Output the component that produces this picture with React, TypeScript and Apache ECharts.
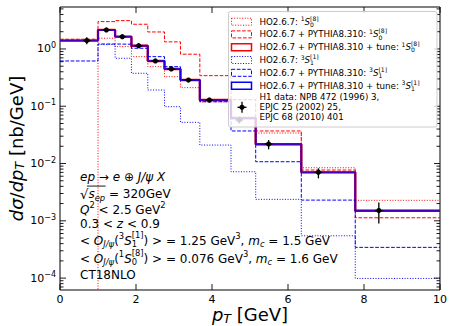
import React, { useEffect, useRef } from "react";
import * as echarts from "echarts";

// ---------------- data ----------------
const binEdges = [0, 1, 1.45, 1.88, 2.31, 2.75, 3.17, 3.68, 4.5, 5.15, 6.35, 7.77, 10];
// HO2.6.7: 1S0[8]  (zero below pT = 1)
const ho1S08 = [1e-7, 1.54, 1.1, 0.734, 0.491, 0.328, 0.211, 0.119, 0.065, 0.0341, 0.00844, 0.00228];
// HO2.6.7 + PYTHIA8.310: 1S0[8]
const hoPy1S08 = [1.48, 3.0, 3.12, 2.7, 1.98, 1.33, 0.81, 0.342, 0.13, 0.037, 0.0077, 0.00113];
// HO2.6.7 + PYTHIA8.310 + tune: 1S0[8]
const tune1S08 = [1.4, 2.15, 1.64, 1.14, 0.617, 0.447, 0.287, 0.1286, 0.062, 0.0217, 0.00702, 0.0015];
// HO2.6.7: 3S1[1]  (starts at pT = 1)
const ho3S11 = [null, 1.2, 0.688, 0.376, 0.192, 0.0982, 0.0524, 0.021, 0.00719, 0.00237, 0.000548, 0.0000988];
// HO2.6.7 + PYTHIA8.310: 3S1[1]
const hoPy3S11 = [0.617, 1.22, 1.21, 1.03, 0.734, 0.491, 0.287, 0.12, 0.037, 0.01075, 0.0023, 0.000344];
// HO2.6.7 + PYTHIA8.310 + tune: 3S1[1]
const tune3S11 = [1.4, 2.15, 1.64, 1.14, 0.617, 0.447, 0.287, 0.1286, 0.062, 0.0217, 0.00702, 0.0015];

// H1 data
const h1PT = [0.705, 1.22, 1.64, 2.07, 2.51, 2.93, 3.38, 3.93, 4.72, 5.49, 6.8, 8.39];
const h1XErr = [0.1, 0.1, 0.1, 0.1, 0.1, 0.1, 0.1, 0.1, 0.1, 0.1, 0.1, 0.1];
const h1Val = [1.4, 2.15, 1.64, 1.14, 0.617, 0.447, 0.287, 0.128, 0.0575, 0.0219, 0.00702, 0.00151];
const h1Low = [1.21, 1.98, 1.53, 1.06, 0.575, 0.415, 0.265, 0.117, 0.05, 0.0177, 0.00551, 0.000902];
const h1High = [1.6, 2.33, 1.76, 1.23, 0.662, 0.48, 0.31, 0.14, 0.066, 0.0257, 0.00824, 0.00208];

// axes
const X_MIN = 0;
const X_MAX = 10;
const xTicks = [0, 2, 4, 6, 8, 10];
const Y_MIN = 6.2e-5;
const Y_MAX = 5.4;
const yDecades = [1e-5, 1e-4, 1e-3, 1e-2, 1e-1, 1];
const minorMultipliers = [2, 3, 4, 5, 6, 7, 8, 9];

// ---------------- styling ----------------
const FONT = "DejaVu Sans";
const RED = "#ff0000";
const BLUE = "#0000ff";
const DASH = [3.7, 1.6];
const DOT = [1, 1.65];
const TICK_FS = 11;
const TITLE_FS = 18;
const TXT_FS = 12;
const LEG_FS = 8.7;
const Z = 100;

// ---------------- math-like text layout ----------------
type P = { t: string; s?: number; dy?: number; it?: boolean; stack?: boolean; ol?: boolean };
const SS = 0.7;
const SUP = -0.34;
const SUB = 0.3;
const sup = (t: string, extra: Partial<P> = {}): P => ({ t, s: SS, dy: SUP, ...extra });
const sub = (t: string, extra: Partial<P> = {}): P => ({ t, s: SS, dy: SUB, ...extra });
// stacked pair (subscript below, superscript above at same x)
const ssub = (t: string): P => ({ t, s: SS, dy: 0.3 });
const ssup = (t: string): P => ({ t, s: SS, dy: -0.42, stack: true });

let measureCtx: CanvasRenderingContext2D | null = null;
function tw(t: string, px: number, it: boolean) {
  if (!measureCtx) measureCtx = document.createElement("canvas").getContext("2d");
  measureCtx!.font = `${it ? "italic " : ""}${px}px "${FONT}"`;
  return measureCtx!.measureText(t).width;
}

function layoutMath(pieces: P[], base: number, color = "#000") {
  const kids: any[] = [];
  let cx = 0;
  let pStart = 0;
  let pW = 0;
  let olA = Infinity;
  let olB = -Infinity;
  for (const p of pieces) {
    const px = base * (p.s ?? 1);
    const w = tw(p.t, px, !!p.it);
    let start: number;
    if (p.stack) {
      start = pStart;
      cx = start + Math.max(pW, w);
    } else {
      start = cx;
      cx = start + w;
    }
    kids.push({
      type: "text",
      x: start,
      y: (p.dy ?? 0) * base,
      z: Z,
      silent: true,
      style: {
        text: p.t,
        fontSize: px,
        fontFamily: FONT,
        fontStyle: p.it ? "italic" : "normal",
        fill: color,
        align: "left",
        verticalAlign: "middle",
      },
    });
    if (p.ol) {
      olA = Math.min(olA, start);
      olB = Math.max(olB, start + w);
    }
    pStart = start;
    pW = w;
  }
  if (olA < olB) {
    kids.push({
      type: "line",
      z: Z,
      silent: true,
      shape: { x1: olA - 1.5, y1: -0.66 * base, x2: olB + 0.5, y2: -0.66 * base },
      style: { stroke: color, lineWidth: 0.9 },
    });
  }
  return { kids, width: cx };
}

function mathGroup(pieces: P[], base: number, x: number, y: number, anchor: "left" | "center" = "left", rotation = 0) {
  const { kids, width } = layoutMath(pieces, base);
  return {
    type: "group",
    x,
    y,
    rotation,
    z: Z,
    children: [{ type: "group", x: anchor === "center" ? -width / 2 : 0, y: 0, z: Z, children: kids }],
  };
}

// ---------------- chart option ----------------
function stepData(vals: (number | null)[]) {
  const pts: number[][] = [];
  vals.forEach((v, i) => {
    if (v != null) pts.push([binEdges[i], v]);
  });
  pts.push([binEdges[binEdges.length - 1], vals[vals.length - 1] as number]);
  return pts;
}

function buildOption() {
  const curves = [
    { vals: ho1S08, color: RED, width: 1, dash: DOT as any, opacity: 1 },
    { vals: hoPy1S08, color: RED, width: 1, dash: DASH as any, opacity: 1 },
    { vals: tune1S08, color: RED, width: 2.4, dash: "solid" as any, opacity: 1 },
    { vals: ho3S11, color: BLUE, width: 1, dash: DOT as any, opacity: 1 },
    { vals: hoPy3S11, color: BLUE, width: 1, dash: DASH as any, opacity: 1 },
    { vals: tune3S11, color: BLUE, width: 2, dash: "solid" as any, opacity: 0.72 },
  ];

  const lineSeries = curves.map((c, i) => ({
    type: "line",
    data: stepData(c.vals),
    step: "end",
    showSymbol: false,
    symbol: "none",
    silent: true,
    clip: true,
    z: 2 + i,
    lineStyle: { color: c.color, width: c.width, type: c.dash, opacity: c.opacity },
  }));

  // tick items: [x, y, kind] kind 0 = major y, 1 = minor y, 2 = x major
  const tickItems: number[][] = [];
  yDecades.forEach((d) => {
    if (d >= Y_MIN && d <= Y_MAX) tickItems.push([X_MIN, d, 0]);
    minorMultipliers.forEach((m) => {
      const v = m * d;
      if (v >= Y_MIN && v <= Y_MAX) tickItems.push([X_MIN, v, 1]);
    });
  });
  xTicks.forEach((t) => tickItems.push([t, Y_MIN, 2]));

  const tickSeries = {
    type: "custom",
    data: tickItems,
    silent: true,
    clip: false,
    z: 20,
    encode: { x: 0, y: 1 },
    renderItem: (_p: any, api: any) => {
      const kind = api.value(2);
      const st = { stroke: "#000", lineWidth: 0.9 };
      if (kind === 2) {
        const b = api.coord([api.value(0), Y_MIN]);
        const t = api.coord([api.value(0), Y_MAX]);
        return {
          type: "group",
          children: [
            { type: "line", shape: { x1: b[0], y1: b[1], x2: b[0], y2: b[1] - 6 }, style: st },
            { type: "line", shape: { x1: t[0], y1: t[1], x2: t[0], y2: t[1] + 6 }, style: st },
          ],
        };
      }
      const l = api.coord([X_MIN, api.value(1)]);
      const r = api.coord([X_MAX, api.value(1)]);
      const len = kind === 0 ? 6 : 3.5;
      return {
        type: "group",
        children: [
          { type: "line", shape: { x1: l[0], y1: l[1], x2: l[0] + len, y2: l[1] }, style: st },
          { type: "line", shape: { x1: r[0], y1: r[1], x2: r[0] - len, y2: r[1] }, style: st },
        ],
      };
    },
  };

  const dataSeries = {
    type: "custom",
    data: h1PT.map((x, i) => [x, h1Val[i], h1Low[i], h1High[i], h1XErr[i]]),
    silent: true,
    z: 30,
    encode: { x: 0, y: 1 },
    renderItem: (_p: any, api: any) => {
      const x = api.value(0);
      const v = api.value(1);
      const c = api.coord([x, v]);
      const lo = api.coord([x, api.value(2)]);
      const hi = api.coord([x, api.value(3)]);
      const xl = api.coord([x - api.value(4), v]);
      const xr = api.coord([x + api.value(4), v]);
      const st = { stroke: "#000", lineWidth: 1.3 };
      return {
        type: "group",
        children: [
          { type: "line", shape: { x1: c[0], y1: lo[1], x2: c[0], y2: hi[1] }, style: st },
          { type: "line", shape: { x1: xl[0], y1: c[1], x2: xr[0], y2: c[1] }, style: st },
          { type: "circle", shape: { cx: c[0], cy: c[1], r: 2.6 }, style: { fill: "#000" } },
        ],
      };
    },
  };

  // ---------- legend (drawn as graphics) ----------
  const legRows = [21.7, 34.4, 47.3, 60, 72.8, 85.8];
  const legTextRows = [97.3, 107.3, 117.3];
  const s08 = (lead: string): P[] => [{ t: lead }, sup("1"), { t: "S", it: true }, ssub("0"), ssup("[8]")];
  const s11 = (lead: string): P[] => [{ t: lead }, sup("3"), { t: "S", it: true }, ssub("1"), ssup("[1]")];
  const legItems: { color: string; dash: any; width: number; pieces: P[] }[] = [
    { color: RED, dash: DOT, width: 1, pieces: s08("HO2.6.7: ") },
    { color: RED, dash: DASH, width: 1, pieces: s08("HO2.6.7 + PYTHIA8.310: ") },
    { color: RED, dash: null, width: 1.5, pieces: s08("HO2.6.7 + PYTHIA8.310 + tune: ") },
    { color: BLUE, dash: DOT, width: 1, pieces: s11("HO2.6.7: ") },
    { color: BLUE, dash: DASH, width: 1, pieces: s11("HO2.6.7 + PYTHIA8.310: ") },
    { color: BLUE, dash: null, width: 1.5, pieces: s11("HO2.6.7 + PYTHIA8.310 + tune: ") },
  ];
  const legendTexts = ["H1 data: NPB 472 (1996) 3,", "EPJC 25 (2002) 25,", "EPJC 68 (2010) 401"];

  const legendEls: any[] = [
    {
      type: "rect",
      z: Z,
      silent: true,
      shape: { x: 228.5, y: 11.5, width: 208.5, height: 115.5, r: 2 },
      style: { fill: "rgba(255,255,255,0.8)", stroke: "#cccccc", lineWidth: 1 },
    },
  ];
  legItems.forEach((it, i) => {
    legendEls.push({
      type: "rect",
      z: Z + 1,
      silent: true,
      shape: { x: 231.5, y: legRows[i] - 3.5, width: 20, height: 7 },
      style: { fill: "none", stroke: it.color, lineWidth: it.width, lineDash: it.dash },
    });
    legendEls.push(mathGroup(it.pieces, LEG_FS, 259.5, legRows[i]));
  });
  const cx = 242;
  const cy = legTextRows[1];
  legendEls.push(
    { type: "line", z: Z + 1, silent: true, shape: { x1: cx, y1: cy - 5.5, x2: cx, y2: cy + 5.5 }, style: { stroke: "#000", lineWidth: 1.3 } },
    { type: "line", z: Z + 1, silent: true, shape: { x1: cx - 4.5, y1: cy, x2: cx + 4.5, y2: cy }, style: { stroke: "#000", lineWidth: 1.3 } },
    { type: "circle", z: Z + 1, silent: true, shape: { cx, cy, r: 2.6 }, style: { fill: "#000" } }
  );
  legendTexts.forEach((t, i) => legendEls.push(mathGroup([{ t }], LEG_FS, 259.5, legTextRows[i])));

  // ---------- annotation block ----------
  const blockLines: P[][] = [
    [{ t: "ep", it: true }, { t: " \u2192 " }, { t: "e", it: true }, { t: " \u2295 " }, { t: "J/\u03c8 X", it: true }],
    [{ t: "\u221a", s: 1.1 }, { t: "s", it: true, ol: true }, { t: "ep", it: true, s: SS, dy: SUB, ol: true }, { t: " = 320GeV" }],
    [{ t: "Q", it: true }, sup("2"), { t: " < 2.5 GeV" }, sup("2")],
    [{ t: "0.3 < " }, { t: "z", it: true }, { t: " < 0.9" }],
    [
      { t: "< " }, { t: "O", it: true }, sub("J/\u03c8", { it: true }), { t: "(" }, sup("3"), { t: "S", it: true }, ssub("1"), ssup("[1]"),
      { t: ") > = 1.25 GeV" }, sup("3"), { t: ", " }, { t: "m", it: true }, sub("c", { it: true }), { t: " = 1.5 GeV" },
    ],
    [
      { t: "< " }, { t: "O", it: true }, sub("J/\u03c8", { it: true }), { t: "(" }, sup("1"), { t: "S", it: true }, ssub("0"), ssup("[8]"),
      { t: ") > = 0.076 GeV" }, sup("3"), { t: ", " }, { t: "m", it: true }, sub("c", { it: true }), { t: " = 1.6 GeV" },
    ],
    [{ t: "CT18NLO" }],
  ];
  const blockY = [177, 194, 209.5, 223.5, 240.5, 258.5, 274.5];
  const blockEls = blockLines.map((p, i) => mathGroup(p, TXT_FS, 80, blockY[i]));

  // ---------- axis titles ----------
  const yTitle = mathGroup(
    [{ t: "d\u03c3", it: true }, { t: "/" }, { t: "dp", it: true }, { t: "T", it: true, s: SS, dy: 0.22 }, { t: " [nb/GeV]" }],
    TITLE_FS, 16, 148.5, "center", Math.PI / 2
  );
  const xTitle = mathGroup(
    [{ t: "p", it: true }, { t: "T", it: true, s: SS, dy: 0.2 }, { t: " [GeV]" }],
    TITLE_FS, 250, 314.5, "center"
  );

  return {
    animation: false,
    backgroundColor: "#ffffff",
    grid: {
      left: 60,
      right: 10,
      top: 7,
      bottom: 36,
      show: true,
      borderColor: "#000",
      borderWidth: 1,
      backgroundColor: "transparent",
      containLabel: false,
      outerBoundsMode: "none",
    },
    xAxis: {
      type: "value",
      min: X_MIN,
      max: X_MAX,
      interval: 2,
      axisLine: { show: false },
      axisTick: { show: false },
      splitLine: { show: false },
      axisLabel: { color: "#000", fontSize: TICK_FS, fontFamily: FONT, margin: 4 },
    },
    yAxis: {
      type: "log",
      logBase: 10,
      min: Y_MIN,
      max: Y_MAX,
      axisLine: { show: false },
      axisTick: { show: false },
      splitLine: { show: false },
      minorTick: { show: false },
      axisLabel: {
        showMinLabel: false,
        showMaxLabel: false,
        margin: 4,
        formatter: (v: number) => {
          const lg = Math.log10(v);
          const e = Math.round(lg);
          if (Math.abs(lg - e) > 0.01) return "";
          const es = e < 0 ? "\u2212" + -e : String(e);
          return `{b|10}{s|${es}}`;
        },
        rich: {
          b: { fontSize: TICK_FS, fontFamily: FONT, color: "#000" },
          s: { fontSize: 8, fontFamily: FONT, color: "#000", padding: [0, 0, 7, 0] },
        },
      },
    },
    series: [...lineSeries, dataSeries, tickSeries],
    graphic: { elements: [...blockEls, ...legendEls, yTitle, xTitle] },
  };
}

export default function App() {
  const ref = useRef<HTMLDivElement>(null);
  useEffect(() => {
    if (!ref.current) return;
    const chart = echarts.init(ref.current, null, { renderer: "svg", width: 450, height: 326 });
    chart.setOption(buildOption() as any);
    return () => chart.dispose();
  }, []);
  return (
    <div
      ref={ref}
      style={{ position: "fixed", left: 0, top: 0, width: 450, height: 326, background: "#fff" }}
    />
  );
}
